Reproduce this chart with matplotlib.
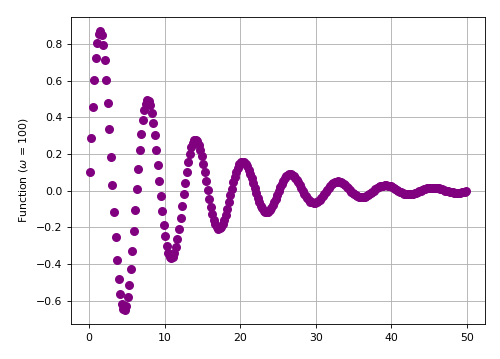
import numpy as np
import matplotlib
matplotlib.use("Agg")
import matplotlib.pyplot as plt

# values (samples every 0.2 starting at 0.1)
y_values = [
    0.099, 0.288, 0.458, 0.604, 0.722, 0.806, 0.856, 0.870, 0.850, 0.796,
    0.713, 0.605, 0.477, 0.334, 0.184, 0.031, -0.117, -0.255, -0.378, -0.482,
    -0.564, -0.620, -0.649, -0.652, -0.629, -0.582, -0.514, -0.428, -0.328, -0.219,
    -0.105,
    0.009, 0.119, 0.220, 0.309, 0.382, 0.438, 0.474, 0.491, 0.487, 0.464,
    0.424, 0.369, 0.301, 0.223, 0.140, 0.054, -0.032, -0.112, -0.186, -0.250,
    -0.301, -0.339, -0.362, -0.370, -0.363, -0.342, -0.308, -0.263, -0.210, -0.150,
    -0.086, -0.021,
    0.042, 0.101, 0.155, 0.200, 0.236, 0.261, 0.275, 0.277, 0.269, 0.250,
    0.222, 0.187, 0.145, 0.099, 0.050, 0.002, -0.045, -0.088, -0.127, -0.159,
    -0.183, -0.200, -0.208, -0.207, -0.199, -0.183, -0.160, -0.131, -0.099, -0.064,
    -0.027,
    0.009, 0.044, 0.075, 0.103, 0.125, 0.142, 0.153, 0.157, 0.155, 0.146,
    0.133, 0.114, 0.092, 0.067, 0.040, 0.012, -0.015, -0.040, -0.063, -0.083,
    -0.098, -0.110, -0.116, -0.118, -0.115, -0.107, -0.096, -0.081, -0.064, -0.044,
    -0.024,
    -0.003, 0.017, 0.035, 0.052, 0.066, 0.077, 0.084, 0.088, 0.088, 0.085,
    0.079, 0.069, 0.057, 0.044, 0.029, 0.013, -0.002, -0.017, -0.030, -0.042,
    -0.052, -0.060, -0.064, -0.067, -0.066, -0.063, -0.057, -0.050, -0.040, -0.030,
    -0.018, -0.007,
    0.005, 0.016, 0.026, 0.034, 0.041, 0.046, 0.049, 0.050, 0.049, 0.046,
    0.041, 0.035, 0.028, 0.020, 0.011, 0.003, -0.006, -0.014, -0.021, -0.027,
    -0.032, -0.035, -0.037, -0.038, -0.036, -0.034, -0.030, -0.025, -0.019, -0.013,
    -0.007,
    0.000, 0.006, 0.012, 0.017, 0.022, 0.025, 0.027, 0.028, 0.028, 0.027,
    0.025, 0.022, 0.018, 0.013, 0.008, 0.003, -0.001, -0.006, -0.010, -0.014,
    -0.017, -0.019, -0.021, -0.021, -0.021, -0.020, -0.018, -0.015, -0.012, -0.009,
    -0.005, -0.002,
    0.002, 0.006, 0.009, 0.011, 0.013, 0.015, 0.016, 0.016, 0.016, 0.014,
    0.013, 0.011, 0.009, 0.006, 0.003, 0.000, -0.002, -0.005, -0.007, -0.009,
    -0.010, -0.011, -0.012, -0.012, -0.011, -0.011, -0.009, -0.008, -0.006, -0.004,
]
x_start, x_end = 0.1, 49.9
x_values = np.linspace(x_start, x_end, len(y_values))

y_label = r'Function ($\omega$ = 100)'
x_ticks = [0, 10, 20, 30, 40, 50]
y_ticks = [-0.6, -0.4, -0.2, 0.0, 0.2, 0.4, 0.6, 0.8]

scale = 0.78
plt.rcParams['font.size'] = 10 * scale
plt.rcParams['axes.linewidth'] = 0.8 * scale
plt.rcParams['xtick.major.width'] = 0.8 * scale
plt.rcParams['ytick.major.width'] = 0.8 * scale
plt.rcParams['xtick.major.size'] = 3.5 * scale
plt.rcParams['ytick.major.size'] = 3.5 * scale
plt.rcParams['grid.linewidth'] = 0.8 * scale

fig = plt.figure(figsize=(5.0, 3.59), dpi=100)
ax = fig.add_axes([0.142, 0.0975, 0.828, 0.855])
ax.scatter(x_values, y_values, color='purple', s=30, zorder=3)
ax.set_xticks(x_ticks)
ax.set_yticks(y_ticks)
ax.set_ylabel(y_label)
ax.grid(True)
fig.savefig('out.png', dpi=100)
